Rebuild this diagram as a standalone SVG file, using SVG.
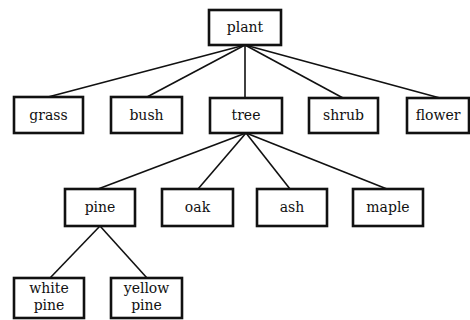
<svg xmlns="http://www.w3.org/2000/svg" width="470" height="320" viewBox="0 0 470 320">
<style>
.box{fill:#fff;stroke:#111;stroke-width:2.6}
.lbl{font-family:"DejaVu Serif","Liberation Serif",serif;font-size:14px;fill:#111;text-anchor:middle}
.edge{stroke:#111;stroke-width:1.6;fill:none}
</style>
<rect width="470" height="320" fill="#fff"/>
<g id="connectors">
<line class="edge" x1="245" y1="45" x2="48" y2="97"/>
<line class="edge" x1="245" y1="45" x2="147" y2="97"/>
<line class="edge" x1="245" y1="45" x2="245" y2="98"/>
<line class="edge" x1="245" y1="45" x2="343" y2="98"/>
<line class="edge" x1="245" y1="45" x2="440" y2="98"/>
<line class="edge" x1="246" y1="133" x2="98" y2="189"/>
<line class="edge" x1="246" y1="133" x2="198" y2="189"/>
<line class="edge" x1="246" y1="133" x2="290" y2="189"/>
<line class="edge" x1="246" y1="133" x2="387" y2="189"/>
<line class="edge" x1="100" y1="226" x2="50" y2="278"/>
<line class="edge" x1="100" y1="226" x2="147" y2="278"/>
</g>
<g id="plant"><rect class="box" x="209" y="10" width="72" height="35"/><text class="lbl" x="245" y="32">plant</text></g>
<g id="grass"><rect class="box" x="14" y="97" width="69" height="36"/><text class="lbl" x="48.5" y="120">grass</text></g>
<g id="bush"><rect class="box" x="111" y="97" width="71" height="36"/><text class="lbl" x="146.5" y="120">bush</text></g>
<g id="tree"><rect class="box" x="210" y="98" width="72" height="35"/><text class="lbl" x="246" y="120">tree</text></g>
<g id="shrub"><rect class="box" x="309" y="98" width="69" height="35"/><text class="lbl" x="343.5" y="120">shrub</text></g>
<g id="flower"><rect class="box" x="407" y="98" width="62" height="35"/><text class="lbl" x="438" y="120">flower</text></g>
<g id="pine"><rect class="box" x="65" y="189" width="70" height="37"/><text class="lbl" x="100" y="212">pine</text></g>
<g id="oak"><rect class="box" x="162" y="189" width="71" height="37"/><text class="lbl" x="197.5" y="212">oak</text></g>
<g id="ash"><rect class="box" x="257" y="189" width="70" height="37"/><text class="lbl" x="292" y="212">ash</text></g>
<g id="maple"><rect class="box" x="353" y="189" width="70" height="37"/><text class="lbl" x="388" y="212">maple</text></g>
<g id="white-pine"><rect class="box" x="14" y="278" width="70" height="40"/><text class="lbl" x="49" y="293">white</text><text class="lbl" x="49" y="310">pine</text></g>
<g id="yellow-pine"><rect class="box" x="111" y="278" width="71" height="40"/><text class="lbl" x="146.5" y="293">yellow</text><text class="lbl" x="146.5" y="310">pine</text></g>
</svg>
